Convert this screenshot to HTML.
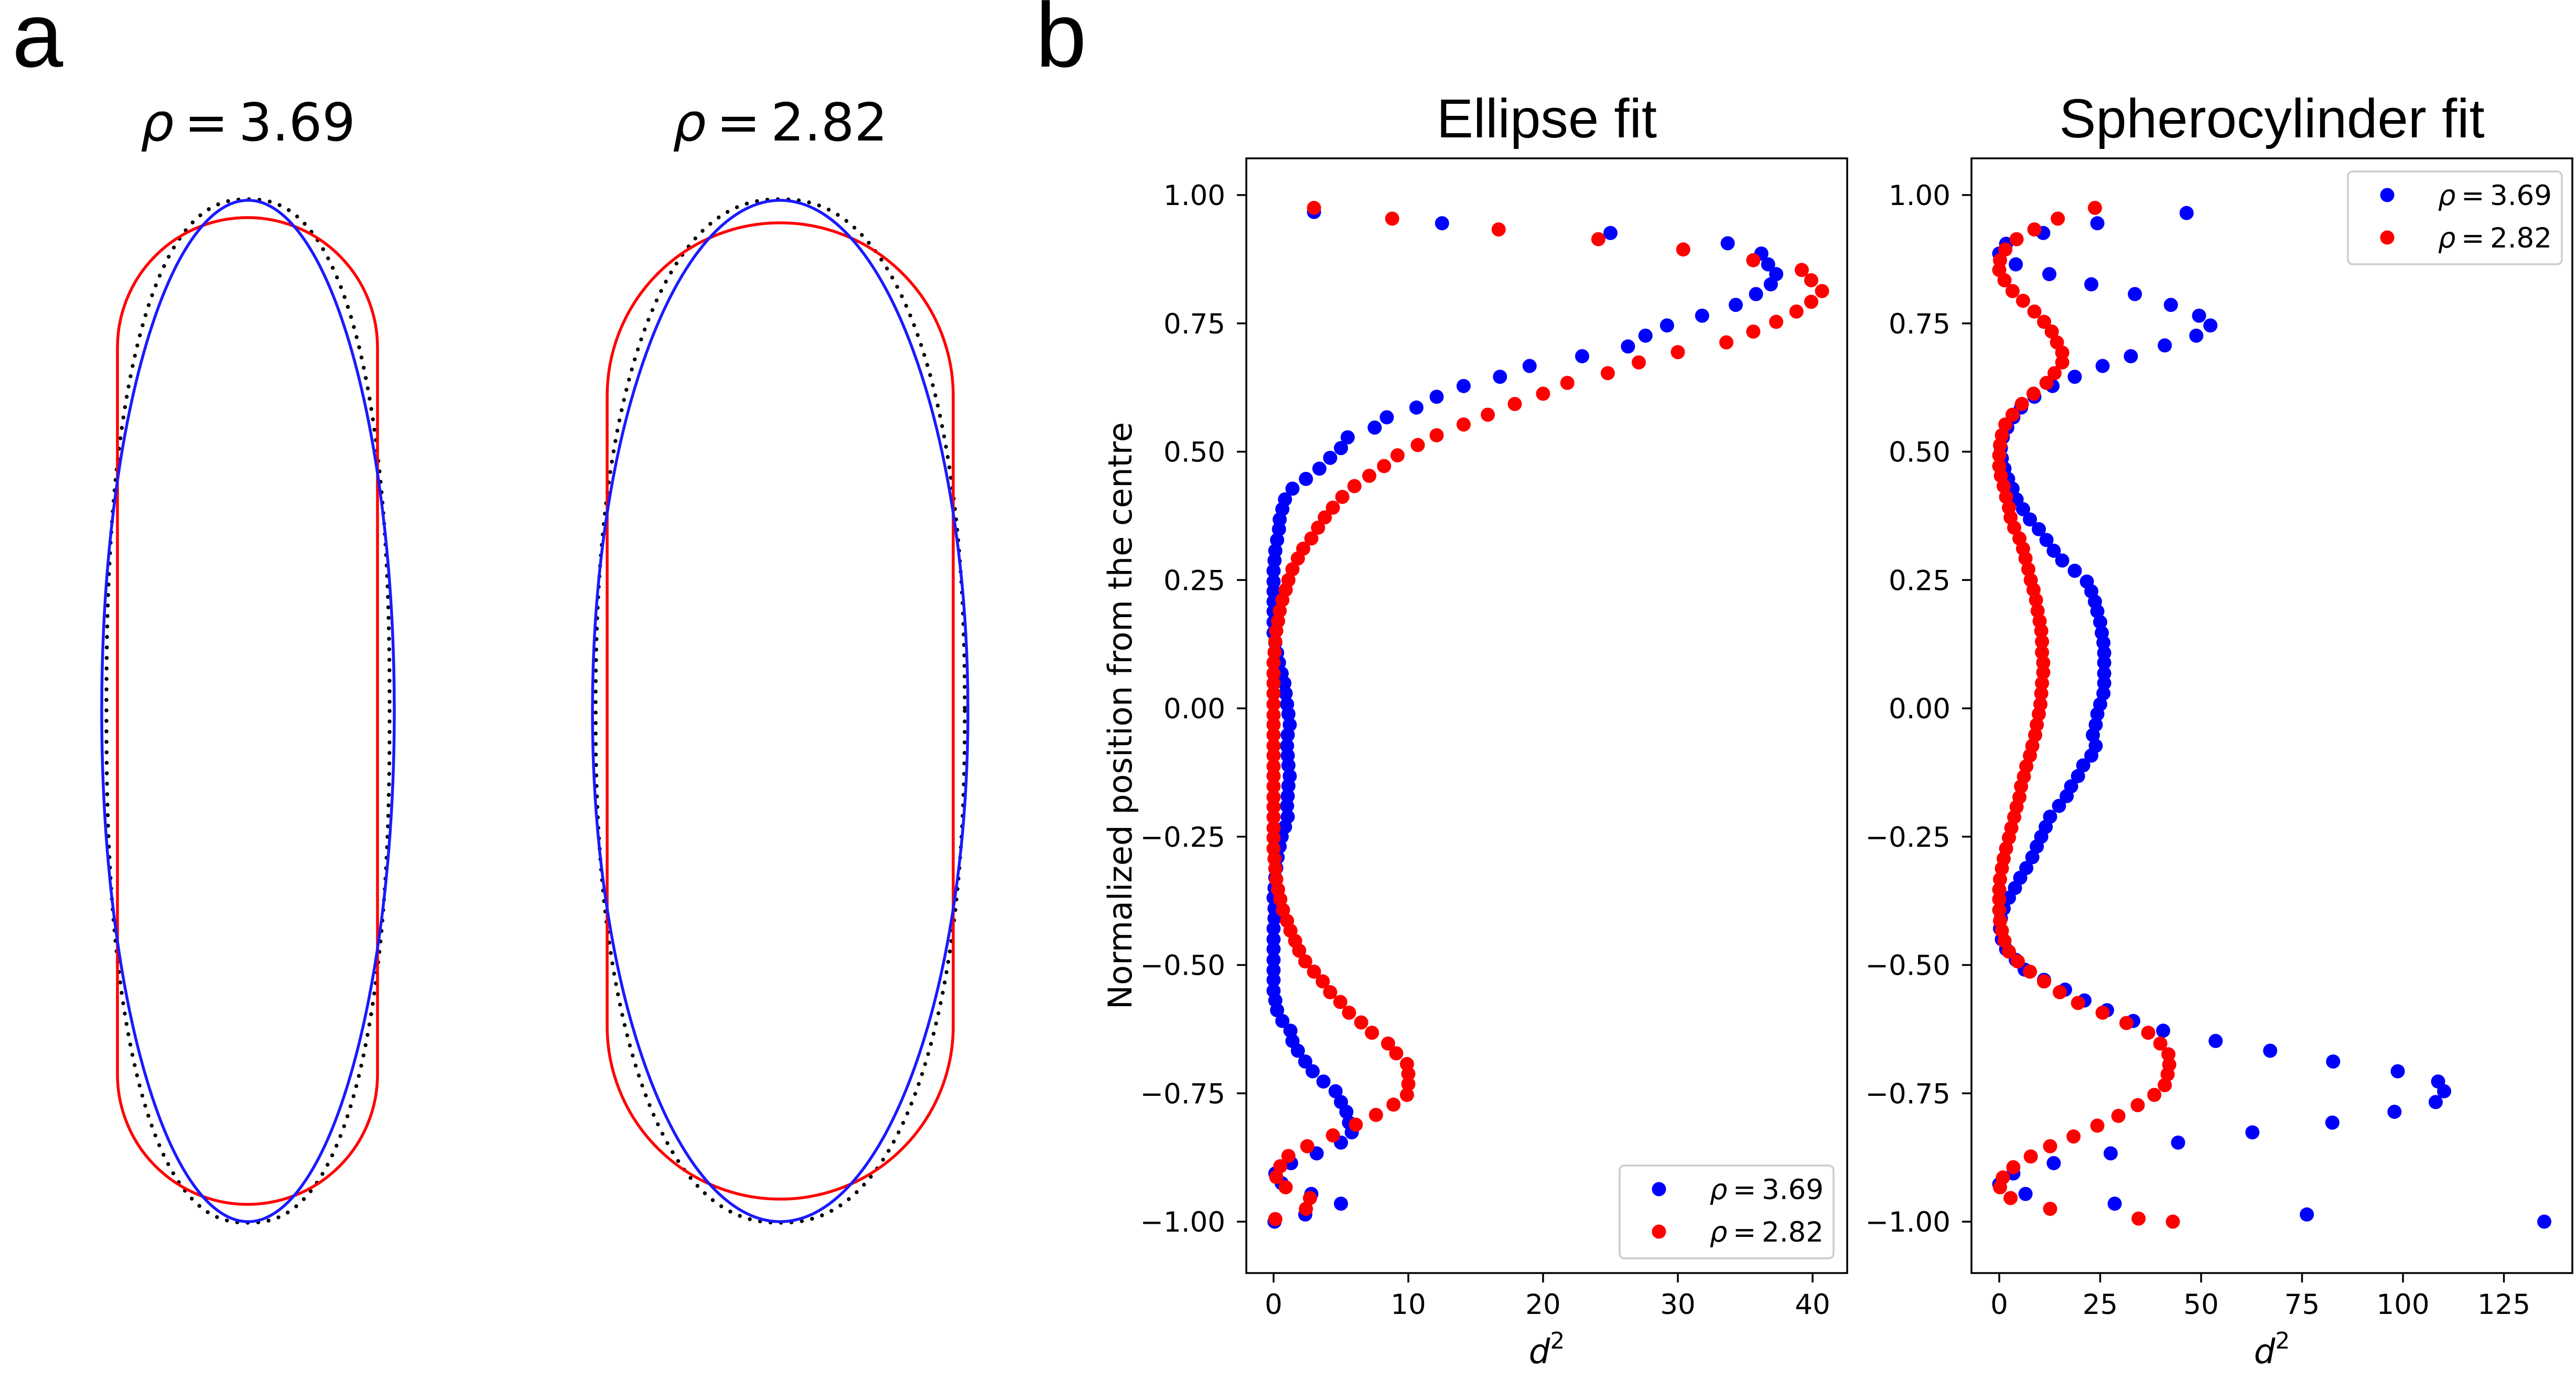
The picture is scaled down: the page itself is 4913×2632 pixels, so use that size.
<!DOCTYPE html>
<html><head><meta charset="utf-8"><style>
html,body{margin:0;padding:0;background:#fff;}
svg{display:block;}
text{font-family:"DejaVu Sans","Liberation Sans",sans-serif;fill:#000;}
.arial{font-family:"Liberation Sans",Arial,sans-serif;}
</style></head><body>
<svg id="fig" width="4913" height="2632" viewBox="0 0 4913 2632" xmlns="http://www.w3.org/2000/svg">
<text x="23" y="127" class="arial" font-size="175">a</text>
<text x="1975" y="127" class="arial" font-size="175">b</text>
<g id="panelA"></g>
<g id="panelB"></g>
</svg>
<script>
// ---------- data ----------
const yTicks = [1.0, 0.75, 0.5, 0.25, 0.0, -0.25, -0.5, -0.75, -1.0];
const yTickLabels = ["1.00","0.75","0.50","0.25","0.00","\u22120.25","\u22120.50","\u22120.75","\u22121.00"];
const xTicksEllipse = [0, 10, 20, 30, 40];
const xTicksSphero = [0, 25, 50, 75, 100, 125];
const seriesLabels = ["3.69", "2.82"];

const ellBlueY = [0.967,0.945,0.926,0.906,0.886,0.865,0.846,0.826,0.807,0.786,
0.765,0.746,0.726,0.705,0.686,0.667,0.646,0.628,0.607,0.586,
0.567,0.547,0.528,0.507,0.488,0.467,0.447,0.428,0.407,0.388,
0.368,0.349,0.328,0.307,0.288,0.268,0.247,0.228,0.208,0.189,
0.168,0.147,0.128,0.108,0.089,0.068,0.049,0.029,0.008,-0.011,
-0.032,-0.052,-0.073,-0.092,-0.111,-0.132,-0.151,-0.171,-0.190,-0.211,
-0.231,-0.250,-0.269,-0.290,-0.311,-0.330,-0.350,-0.369,-0.390,-0.409,
-0.429,-0.450,-0.469,-0.490,-0.510,-0.529,-0.550,-0.569,-0.588,-0.609,
-0.628,-0.648,-0.667,-0.688,-0.707,-0.727,-0.746,-0.767,-0.786,-0.807,
-0.826,-0.846,-0.867,-0.886,-0.906,-0.925,-0.946,-0.965,-0.986,-1.0];
const ellBlueX = [3.0,12.5,25.0,33.7,36.2,36.7,37.3,36.9,35.8,34.3,
31.8,29.2,27.6,26.3,22.9,19.0,16.8,14.1,12.1,10.6,
8.4,7.5,5.5,5.0,4.2,3.4,2.4,1.4,0.85,0.65,
0.45,0.4,0.26,0.13,0.07,0,0,0,0,0,
0,0,0.13,0.26,0.4,0.6,0.8,0.9,1.0,1.1,
1.2,1.05,1.0,1.05,1.1,1.2,1.1,1.05,1.0,1.05,
0.85,0.6,0.45,0.3,0.2,0.13,0.07,0,0.07,0.07,
0,0,0,0,0,0,0,0.13,0.26,0.65,
1.25,1.4,1.8,2.35,2.9,3.7,4.6,5.0,5.4,5.6,
5.8,5.0,3.2,1.3,0.13,0.6,2.8,5.0,2.35,0.07];

const ellRedY = [0.975,0.954,0.933,0.914,0.894,0.873,0.854,0.834,0.813,0.792,
0.773,0.753,0.734,0.713,0.694,0.674,0.653,0.634,0.613,0.593,
0.572,0.553,0.532,0.513,0.493,0.472,0.453,0.433,0.412,0.391,
0.372,0.352,0.331,0.311,0.292,0.271,0.250,0.231,0.211,0.190,
0.170,0.151,0.130,0.109,0.089,0.068,0.049,0.029,0.008,-0.013,
-0.032,-0.052,-0.073,-0.092,-0.113,-0.132,-0.152,-0.173,-0.192,-0.212,
-0.233,-0.252,-0.273,-0.293,-0.312,-0.333,-0.353,-0.372,-0.393,-0.414,
-0.433,-0.453,-0.472,-0.493,-0.513,-0.532,-0.553,-0.572,-0.593,-0.612,
-0.632,-0.653,-0.672,-0.693,-0.712,-0.732,-0.753,-0.772,-0.792,-0.811,
-0.832,-0.853,-0.872,-0.892,-0.913,-0.933,-0.954,-0.975,-0.995];
const ellRedX = [3.0,8.8,16.7,24.1,30.4,35.6,39.2,39.9,40.7,39.9,
38.8,37.3,35.6,33.6,30.0,27.1,24.8,21.8,20.0,17.9,
15.9,14.1,12.1,10.7,9.2,8.2,7.1,6.0,5.1,4.4,
3.8,3.3,2.8,2.2,1.8,1.4,1.1,0.9,0.65,0.45,
0.33,0.2,0.13,0.07,0,0,0,0,0,0,
0,0,0,0,0,0,0,0,0,0,
0,0,0,0.07,0.13,0.2,0.33,0.5,0.7,1.0,
1.25,1.6,1.9,2.35,3.0,3.65,4.2,4.95,5.6,6.5,
7.3,8.5,9.1,9.9,10.0,10.0,9.9,8.9,7.6,6.1,
4.4,2.5,1.1,0.5,0.2,0.9,2.7,2.4,0.13];

const sphBlueY = [0.965,0.945,0.926,0.905,0.886,0.865,0.846,0.826,0.807,0.786,
0.765,0.746,0.726,0.707,0.686,0.667,0.646,0.628,0.607,0.586,
0.567,0.547,0.528,0.507,0.487,0.467,0.447,0.428,0.407,0.388,
0.368,0.349,0.328,0.307,0.288,0.268,0.247,0.228,0.208,0.189,
0.168,0.147,0.128,0.108,0.089,0.068,0.049,0.029,0.008,-0.011,
-0.032,-0.052,-0.073,-0.092,-0.111,-0.132,-0.152,-0.171,-0.190,-0.211,
-0.231,-0.250,-0.269,-0.290,-0.311,-0.330,-0.350,-0.369,-0.390,-0.409,
-0.429,-0.450,-0.469,-0.490,-0.509,-0.529,-0.548,-0.569,-0.588,-0.609,
-0.628,-0.648,-0.667,-0.688,-0.707,-0.727,-0.746,-0.767,-0.786,-0.807,
-0.826,-0.846,-0.867,-0.886,-0.906,-0.927,-0.946,-0.965,-0.986,-1.0];
const sphBlueX = [46.4,24.3,10.9,1.7,0,4.1,12.4,22.8,33.6,42.5,
49.5,52.3,48.8,41.0,32.6,25.6,18.7,13.2,8.7,5.4,
3.5,2.0,0.9,0.4,0.65,1.3,2.2,3.3,4.3,5.9,
7.6,9.8,11.7,13.5,15.6,18.7,21.7,22.8,23.7,24.3,
25.0,25.4,25.8,26.0,26.0,26.0,26.0,25.8,25.0,24.3,
23.9,23.2,23.9,22.8,20.8,19.5,17.8,16.7,14.8,12.6,
11.5,10.4,9.3,8.2,6.7,5.2,3.9,2.4,1.1,0.4,
0.2,0.65,1.7,4.1,6.3,11.1,16.3,21.1,26.7,33.2,
40.6,53.6,67.1,82.7,98.7,108.7,110.2,108.1,97.9,82.5,
62.7,44.3,27.6,13.5,3.5,0,6.5,28.6,76.2,135.0];

const sphRedY = [0.975,0.954,0.933,0.914,0.894,0.873,0.854,0.834,0.813,0.794,
0.773,0.753,0.734,0.713,0.693,0.674,0.653,0.634,0.613,0.593,
0.572,0.553,0.532,0.513,0.493,0.472,0.453,0.433,0.412,0.391,
0.372,0.352,0.331,0.311,0.292,0.271,0.250,0.231,0.211,0.190,
0.170,0.151,0.130,0.109,0.089,0.070,0.049,0.029,0.008,-0.011,
-0.032,-0.052,-0.073,-0.092,-0.113,-0.133,-0.152,-0.173,-0.192,-0.212,
-0.233,-0.252,-0.273,-0.293,-0.312,-0.333,-0.353,-0.372,-0.393,-0.414,
-0.433,-0.453,-0.474,-0.493,-0.513,-0.532,-0.553,-0.574,-0.593,-0.613,
-0.632,-0.653,-0.674,-0.694,-0.713,-0.734,-0.753,-0.773,-0.794,-0.813,
-0.834,-0.853,-0.873,-0.894,-0.914,-0.933,-0.954,-0.975,-0.994,-1.0];
const sphRedX = [23.7,14.5,8.7,4.3,1.5,0.2,0,1.3,3.3,5.9,
8.7,11.1,13.0,14.3,15.6,15.6,13.7,11.7,8.5,5.6,
3.3,1.5,0.65,0.2,0,0,0.4,1.1,1.7,2.4,
2.8,3.7,5.0,5.9,6.5,7.2,7.8,8.5,9.1,9.5,
10.0,10.4,10.6,10.6,10.9,10.9,10.6,10.4,10.2,9.8,
9.3,8.9,8.2,7.6,6.7,6.1,5.4,5.0,4.3,3.7,
3.0,2.4,1.7,1.1,0.65,0.2,0,0,0,0.2,
0.65,1.3,2.4,4.6,7.6,11.1,15.0,19.5,25.6,31.5,
36.9,39.9,41.9,42.1,41.7,41.0,38.4,34.3,29.5,24.3,
18.4,12.6,7.8,3.5,0.9,0.2,2.8,12.6,34.5,43.0];

// ---------- helpers ----------
const NS = "http://www.w3.org/2000/svg";
function mk(tag, attrs, parent) {
  const e = document.createElementNS(NS, tag);
  for (const k in attrs) e.setAttribute(k, attrs[k]);
  parent.appendChild(e);
  return e;
}
const RHO_EQ = '<tspan font-style="italic">\u03c1</tspan>\u2009=\u2009';

// ---------- panel a ----------
const pa = document.getElementById('panelA');
function superPath(cx, cy, a, b, n) {
  let d = "";
  const N = 720;
  for (let i = 0; i <= N; i++) {
    const t = i / N * 2 * Math.PI;
    const c = Math.cos(t), s = Math.sin(t);
    const x = cx + a * Math.sign(c) * Math.pow(Math.abs(c), 2 / n);
    const y = cy + b * Math.sign(s) * Math.pow(Math.abs(s), 2 / n);
    d += (i ? "L" : "M") + x.toFixed(2) + " " + y.toFixed(2);
  }
  return d + "Z";
}
const shapes = [
  {cx: 473, val: "3.69", rx: 279, rLeft: 224, rRight: 720, rTop: 415, rBot: 2297, dA: 270, dN: 2.4, key: 'rho-369'},
  {cx: 1488, val: "2.82", rx: 358, rLeft: 1158, rRight: 1818, rTop: 425, rBot: 2287, dA: 352, dN: 2.3, key: 'rho-282'}
];
shapes.forEach(s => {
  const g = mk('g', {}, pa);
  
  
  const t = mk('text', {x: s.cx, y: 268, 'font-size': 100, 'text-anchor': 'middle'}, g);
  
  
  t.innerHTML = RHO_EQ + s.val;
  const dot = mk('path', {d: superPath(s.cx, 1356, s.dA, 976, s.dN), fill: 'none', stroke: '#000', 'stroke-width': 7.5, 'stroke-dasharray': '0 20', 'stroke-linecap': 'round'}, g);
  
  
  const r = (s.rRight - s.rLeft) / 2;
  const red = mk('rect', {x: s.rLeft, y: s.rTop, width: s.rRight - s.rLeft, height: s.rBot - s.rTop, rx: r, ry: r, fill: 'none', stroke: '#ff0000', 'stroke-width': 5.5}, g);
  
  
  const blue = mk('ellipse', {cx: s.cx, cy: 1356, rx: s.rx, ry: 974, fill: 'none', stroke: '#1a1aff', 'stroke-width': 5.5}, g);
  
  
});

// ---------- panel b ----------
const pb = document.getElementById('panelB');
const Y_TOP = 302, Y_BOT = 2428;
function yScale(v) { return 1351 - v * 979; }

function drawChart(opt) {
  const g = mk('g', {}, pb);
  
  
  const xs = v => opt.x0 + v * opt.kx;
  const tt = mk('text', {x: (opt.left + opt.right) / 2, y: 262, 'font-size': 105, 'text-anchor': 'middle', class: 'arial'}, g);
  
  
  tt.textContent = opt.title;
  const pts = mk('g', {}, g);
  
  
  opt.series.forEach(se => {
    for (let i = 0; i < se.x.length; i++) {
      const c = mk('circle', {cx: xs(se.x[i]).toFixed(1), cy: yScale(se.y[i]).toFixed(1), r: 13.5, fill: se.color}, pts);
      
      
    }
  });
  const fr = mk('rect', {x: opt.left, y: Y_TOP, width: opt.right - opt.left, height: Y_BOT - Y_TOP, fill: 'none', stroke: '#000', 'stroke-width': 3.5}, g);
  
  
  yTicks.forEach((v, i) => {
    const y = yScale(v);
    const l = mk('line', {x1: opt.left - 18, x2: opt.left, y1: y, y2: y, stroke: '#000', 'stroke-width': 3.5}, g);
    
    
    const t = mk('text', {x: opt.left - 40, y: y + 19, 'font-size': 53, 'text-anchor': 'end'}, g);
    
    
    t.textContent = yTickLabels[i];
  });
  opt.xTicks.forEach(v => {
    const x = xs(v);
    const l = mk('line', {x1: x, x2: x, y1: Y_BOT, y2: Y_BOT + 18, stroke: '#000', 'stroke-width': 3.5}, g);
    
    
    const t = mk('text', {x: x, y: 2506, 'font-size': 53, 'text-anchor': 'middle'}, g);
    
    
    t.textContent = String(v);
  });
  const xl = mk('text', {x: (opt.left + opt.right) / 2, y: 2600, 'font-size': 64, 'text-anchor': 'middle'}, g);
  
  
  xl.innerHTML = '<tspan font-style="italic">d</tspan><tspan font-size="44" dy="-28">2</tspan>';
  const lg = mk('g', {}, g);
  
  
  const lb = mk('rect', {x: opt.legX, y: opt.legY, width: 408, height: 177, rx: 9, ry: 9, fill: '#fff', 'fill-opacity': 0.8, stroke: '#cccccc', 'stroke-width': 3.5}, lg);
  
  
  opt.series.forEach((se, i) => {
    const ry = opt.legY + 45 + i * 81;
    const m = mk('circle', {cx: opt.legX + 75, cy: ry, r: 13.5, fill: se.color}, lg);
    
    
    const t = mk('text', {x: opt.legX + 389, y: ry + 19, 'font-size': 53, 'text-anchor': 'end'}, lg);
    
    
    t.innerHTML = RHO_EQ + seriesLabels[i];
  });
}

drawChart({
  name: 'ellipse-fit-chart', title: 'Ellipse fit', left: 2377, right: 3523, x0: 2429, kx: 25.7,
  xTicks: xTicksEllipse, legX: 3089, legY: 2223,
  series: [{key: 'rho-369', color: '#0000ff', x: ellBlueX, y: ellBlueY},
           {key: 'rho-282', color: '#ff0000', x: ellRedX, y: ellRedY}]
});
drawChart({
  name: 'spherocylinder-fit-chart', title: 'Spherocylinder fit', left: 3760, right: 4906, x0: 3813, kx: 7.70,
  xTicks: xTicksSphero, legX: 4478, legY: 327,
  series: [{key: 'rho-369', color: '#0000ff', x: sphBlueX, y: sphBlueY},
           {key: 'rho-282', color: '#ff0000', x: sphRedX, y: sphRedY}]
});

const yl = mk('text', {x: 0, y: 0, 'font-size': 62, 'text-anchor': 'middle', transform: 'translate(2158 1365) rotate(-90)'}, pb);


yl.textContent = 'Normalized position from the centre';
</script>
</body></html>
